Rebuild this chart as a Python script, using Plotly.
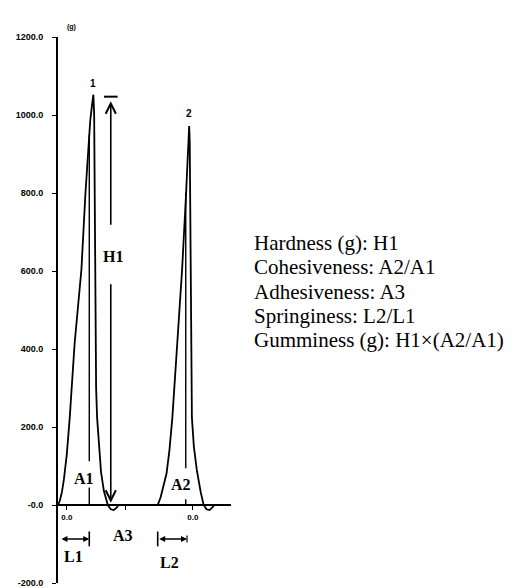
import plotly.graph_objects as go

# ---- data (time in arbitrary units, force in g) ----
curve_t = [0, 0.2, 0.4, 0.6, 0.9, 1.2, 1.7, 2.4, 2.8, 3.3, 3.5, 3.62,
           3.7, 3.75, 3.8, 3.85, 3.9, 4.0, 4.2, 4.4, 4.7, 4.9, 5.1, 5.4, 5.7, 6.0, 6.2,
           10.2, 10.5, 10.8, 11.1, 11.4, 11.7, 12.2, 12.7, 13.1, 13.3, 13.42,
           13.48, 13.52, 13.56, 13.6, 13.65, 13.7, 13.9, 14.2, 14.6, 14.9, 15.2, 15.5, 15.8, 16.0, 17.7]
curve_g = [0, 12, 33, 65, 130, 224, 414, 605, 796, 986, 1030, 1052,
           1000, 800, 600, 420, 300, 224, 150, 85, 35, 15, 0, -11, -13, -7, 0,
           0, 20, 50, 80, 140, 224, 414, 605, 796, 900, 972,
           930, 750, 550, 400, 300, 224, 150, 90, 33, 0, -11, -13, -6, 0, 0]

marker_t = [3.2, 13.07]
marker_top = [950, 800]
marker_gap = [(112, 45), (94, 15)]

y_ticks = [-200, 0, 200, 400, 600, 800, 1000, 1200]
y_ticktext = ["-200.0", "-0.0", "200.0", "400.0", "600.0", "800.0", "1000.0", "1200.0"]
x_ticks = [0.9, 6.9, 13.8]
x_ticktext = ["0.0", "", "0.0"]

hardness = 1047
peak_labels = ["1", "2"]
peak_label_pos = [(3.6, 1080), (13.4, 1005)]

legend_lines = ["Hardness (g): H1", "Cohesiveness: A2/A1", "Adhesiveness: A3",
                "Springiness: L2/L1", "Gumminess (g): H1\u00d7(A2/A1)"]

fig = go.Figure()
fig.add_trace(go.Scatter(x=curve_t, y=curve_g, mode="lines",
                         line=dict(color="black", width=1.8), hoverinfo="skip"))
for t, top, (g1, g2) in zip(marker_t, marker_top, marker_gap):
    fig.add_trace(go.Scatter(x=[t, t, None, t, t], y=[top, g1, None, g2, 0], mode="lines",
                             line=dict(color="black", width=1.4), hoverinfo="skip"))

# H1 arrow (two pieces around the label)
fig.add_annotation(x=5.4, y=hardness - 12, ax=5.4, ay=715, xref="x", yref="y", axref="x", ayref="y",
                   showarrow=True, arrowhead=5, arrowwidth=1.6, arrowsize=1.25, arrowcolor="black", text="")
fig.add_annotation(x=5.4, y=6, ax=5.4, ay=570, xref="x", yref="y", axref="x", ayref="y",
                   showarrow=True, arrowhead=5, arrowwidth=1.6, arrowsize=1.25, arrowcolor="black", text="")
fig.add_shape(type="line", x0=4.7, x1=6.1, y0=hardness, y1=hardness, line=dict(color="black", width=2))
fig.add_annotation(x=5.6, y=636, text="<b>H1</b>", showarrow=False,
                   font=dict(family="Liberation Serif", size=16, color="black"))

# L1 / L2 arrows
for (a, b) in [(0.2, 3.2), (10.2, 13.2)]:
    fig.add_annotation(x=b, y=-87, ax=a, ay=-87, xref="x", yref="y", axref="x", ayref="y",
                       showarrow=True, arrowhead=2, arrowside="end+start", arrowwidth=1.5,
                       arrowsize=0.8, arrowcolor="black", text="")
fig.add_shape(type="line", x0=3.2, x1=3.2, y0=-68, y1=-106, line=dict(color="black", width=1.6))
fig.add_shape(type="line", x0=10.2, x1=10.2, y0=-68, y1=-106, line=dict(color="black", width=1.6))
fig.add_shape(type="line", x0=13.2, x1=13.2, y0=-78, y1=-96, line=dict(color="black", width=1.2))

labels = [("A1", 2.7, 68), ("A2", 12.6, 53), ("A3", 6.6, -79), ("L1", 1.6, -132), ("L2", 11.4, -147)]
for txt, x, y in labels:
    fig.add_annotation(x=x, y=y, text="<b>%s</b>" % txt, showarrow=False,
                       font=dict(family="Liberation Serif", size=16, color="black"))

for txt, (x, y) in zip(peak_labels, peak_label_pos):
    fig.add_annotation(x=x, y=y, text="<b>%s</b>" % txt, showarrow=False,
                       font=dict(family="Liberation Sans", size=10, color="black"))

fig.add_annotation(xref="paper", yref="paper", x=(53 - 46) / 177, y=1 + (29 - 13) / 551,
                   text="<b>(g)</b>", showarrow=False,
                   font=dict(family="Liberation Sans", size=7, color="black"))

line_y_px = [237, 261.5, 286, 310.5, 335]
for txt, ypx in zip(legend_lines, line_y_px):
    fig.add_annotation(xref="paper", yref="paper", x=(244 - 46) / 177, y=(580 - ypx) / 551,
                       xanchor="left", yanchor="middle", text=txt, showarrow=False,
                       font=dict(family="Liberation Serif", size=21, color="black"))

fig.update_layout(
    width=518, height=588,
    margin=dict(l=46, r=518 - 223, t=29, b=8),
    paper_bgcolor="white", plot_bgcolor="white",
    showlegend=False,
    xaxis=dict(range=[0, 17.7], anchor="free", position=200 / 1400, showline=True,
               linecolor="black", linewidth=2, showgrid=False, zeroline=False,
               tickvals=x_ticks, ticktext=x_ticktext, ticks="outside", ticklen=4,
               tickcolor="black",
               tickfont=dict(family="Liberation Sans", size=8, color="black", weight="bold"),
               fixedrange=True),
    yaxis=dict(range=[-200, 1200], showline=True, linecolor="black", linewidth=2,
               showgrid=False, zeroline=False, tickvals=y_ticks, ticktext=y_ticktext,
               ticks="outside", ticklen=4, tickcolor="black", ticklabelstandoff=7,
               tickfont=dict(family="Liberation Sans", size=9, color="black", weight="bold")),
)

fig.write_html("out.html")
